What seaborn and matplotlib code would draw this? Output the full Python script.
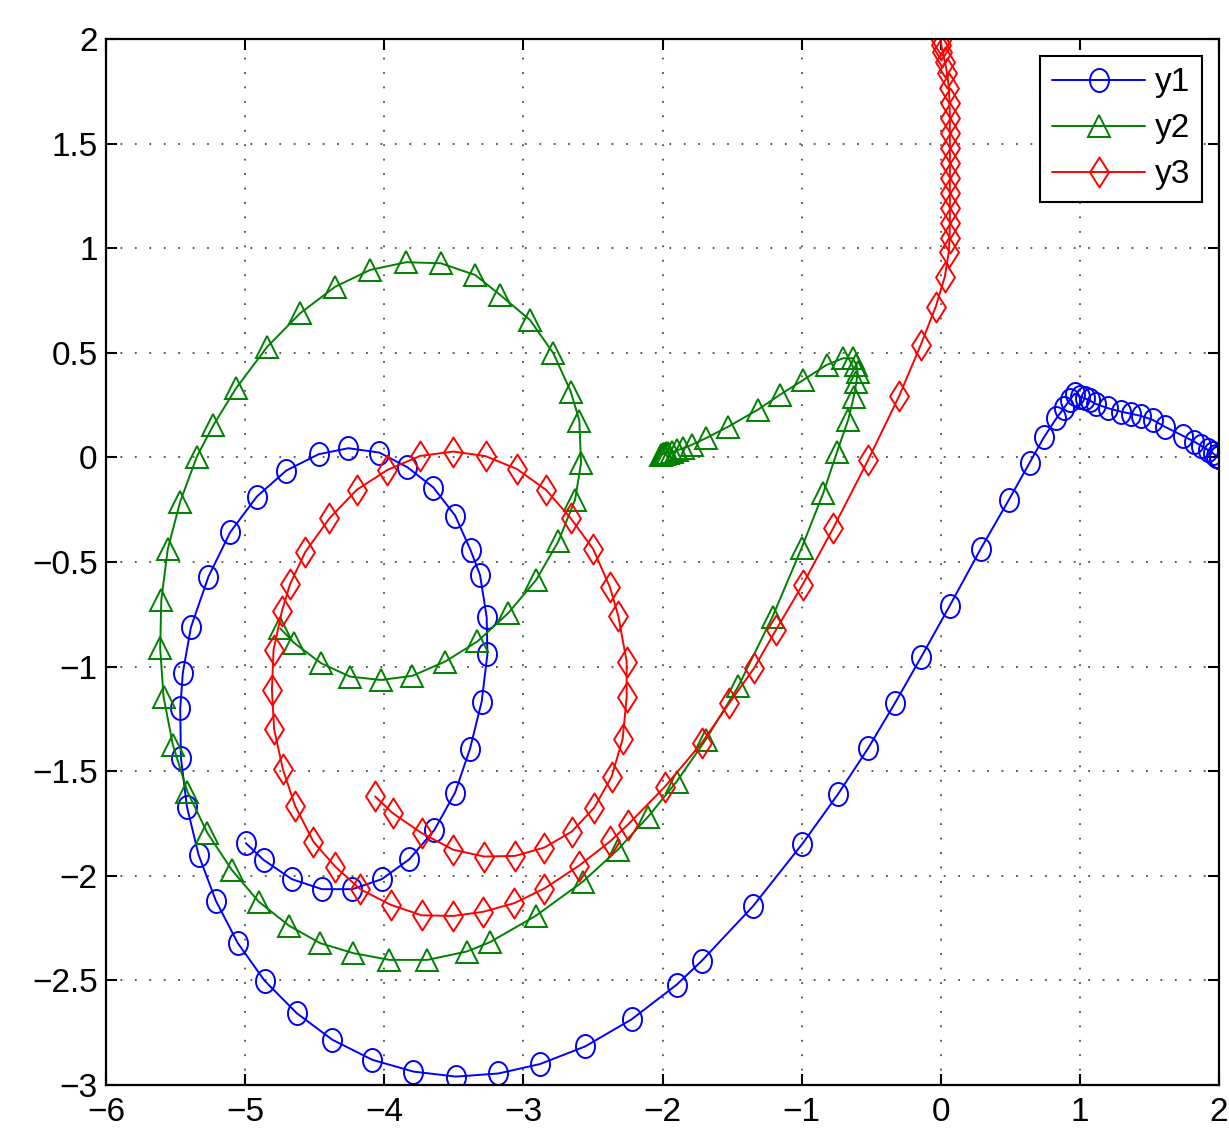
import numpy as np
import matplotlib
matplotlib.use("Agg")
import matplotlib.pyplot as plt
from matplotlib.path import Path
from matplotlib.transforms import Affine2D
import seaborn as sns

# y1 (blue circles)
y1_x = [2.0, 1.999, 1.98, 1.956, 1.92, 1.873, 1.82, 1.741, 1.609, 1.525, 1.442,
        1.370, 1.293, 1.202, 1.113, 1.070, 1.034, 0.999, 0.963, 0.927, 0.884,
        0.831, 0.742, 0.639, 0.489, 0.287, 0.065, -0.139, -0.330, -0.522,
        -0.738, -0.996, -1.348, -1.719, -1.899, -2.222, -2.557, -2.881, -3.180,
        -3.484, -3.791, -4.085, -4.373, -4.629, -4.861, -5.053, -5.211, -5.335,
        -5.419, -5.462, -5.467, -5.448, -5.390, -5.264, -5.108, -4.916, -4.705,
        -4.473, -4.258, -4.035, -3.834, -3.647, -3.491, -3.379, -3.312, -3.264,
        -3.259, -3.300, -3.384, -3.491, -3.640, -3.820, -4.018, -4.229, -4.449,
        -4.665, -4.868, -4.995]
y1_y = [0.0, 0.001, 0.007, 0.02, 0.036, 0.055, 0.076, 0.103, 0.147, 0.179, 0.198,
        0.208, 0.219, 0.235, 0.256, 0.272, 0.283, 0.291, 0.305, 0.275, 0.235,
        0.187, 0.097, -0.025, -0.203, -0.437, -0.708, -0.952, -1.175, -1.390,
        -1.609, -1.848, -2.144, -2.407, -2.521, -2.686, -2.816, -2.900, -2.945,
        -2.960, -2.936, -2.880, -2.784, -2.657, -2.501, -2.322, -2.119, -1.900,
        -1.669, -1.435, -1.199, -1.029, -0.812, -0.570, -0.358, -0.187, -0.063,
        0.015, 0.044, 0.023, -0.047, -0.144, -0.278, -0.445, -0.562, -0.764,
        -0.941, -1.167, -1.393, -1.602, -1.781, -1.921, -2.016, -2.064, -2.064,
        -2.016, -1.924, -1.844]

# y2 (green triangles)
y2_x = [-2.01, -2.0, -1.99, -1.975, -1.96, -1.935, -1.899, -1.851, -1.791, -1.688,
        -1.528, -1.317, -1.157, -0.989, -0.821, -0.702, -0.634, -0.606, -0.598,
        -0.606, -0.625, -0.666, -0.745, -0.845, -1.001, -1.209, -1.456, -1.690,
        -1.899, -2.103, -2.323, -2.573, -2.913, -3.243, -3.407, -3.690, -3.963,
        -4.222, -4.461, -4.684, -4.904, -5.096, -5.271, -5.415, -5.520, -5.587,
        -5.611, -5.603, -5.556, -5.467, -5.347, -5.228, -5.065, -4.840, -4.605,
        -4.353, -4.102, -3.843, -3.594, -3.347, -3.168, -2.953, -2.785, -2.660,
        -2.598, -2.586, -2.629, -2.749, -2.909, -3.110, -3.331, -3.563, -3.798,
        -4.023, -4.246, -4.454, -4.646, -4.749]
y2_y = [0.012, 0.015, 0.018, 0.02, 0.022, 0.025, 0.033, 0.044, 0.060, 0.092,
        0.147, 0.227, 0.299, 0.370, 0.442, 0.474, 0.474, 0.442, 0.410,
        0.362, 0.291, 0.179, 0.028, -0.171, -0.434, -0.761, -1.095, -1.350,
        -1.550, -1.717, -1.876, -2.028, -2.192, -2.318, -2.362, -2.402, -2.402,
        -2.370, -2.322, -2.239, -2.123, -1.972, -1.796, -1.598, -1.374, -1.143,
        -0.912, -0.681, -0.437, -0.211, 0.004, 0.155, 0.331, 0.530, 0.689,
        0.816, 0.896, 0.933, 0.928, 0.872, 0.777, 0.657, 0.498, 0.315,
        0.176, -0.028, -0.203, -0.402, -0.586, -0.745, -0.880, -0.976, -1.044,
        -1.064, -1.048, -0.984, -0.888, -0.817]

# y3 (red diamonds)
y3_x = [0.0, 0.004, 0.012, 0.03, 0.045, 0.058, 0.063, 0.065, 0.065, 0.065, 0.065,
        0.065, 0.065, 0.065, 0.065, 0.063, 0.058, 0.029, -0.036, -0.144, -0.299,
        -0.522, -0.774, -0.994, -1.185, -1.343, -1.521, -1.719, -1.983, -2.251,
        -2.378, -2.601, -2.850, -3.066, -3.288, -3.503, -3.731, -3.953, -4.174,
        -4.353, -4.509, -4.641, -4.729, -4.792, -4.808, -4.796, -4.736, -4.677,
        -4.569, -4.394, -4.198, -3.978, -3.743, -3.503, -3.272, -3.048, -2.838,
        -2.660, -2.498, -2.378, -2.318, -2.258, -2.258, -2.287, -2.366, -2.491,
        -2.653, -2.850, -3.060, -3.283, -3.506, -3.731, -3.939, -4.066]
y3_y = [1.996, 1.97, 1.94, 1.89, 1.837, 1.765, 1.693, 1.621, 1.550, 1.478, 1.406,
        1.335, 1.263, 1.191, 1.119, 1.048, 0.984, 0.864, 0.721, 0.538, 0.294,
        -0.012, -0.339, -0.609, -0.825, -1.008, -1.175, -1.366, -1.574, -1.757,
        -1.836, -1.952, -2.061, -2.131, -2.172, -2.192, -2.189, -2.139, -2.064,
        -1.956, -1.838, -1.666, -1.491, -1.299, -1.111, -0.920, -0.735, -0.605,
        -0.453, -0.291, -0.155, -0.060, 0.007, 0.028, 0.006, -0.055, -0.155,
        -0.291, -0.439, -0.621, -0.758, -0.976, -1.147, -1.347, -1.526, -1.674,
        -1.789, -1.865, -1.905, -1.908, -1.875, -1.796, -1.701, -1.621]

labels = ["y1", "y2", "y3"]
colors = ["#0000ff", "#008000", "#ff0000"]

sns.set_style("ticks")
plt.rcParams["font.family"] = ["Liberation Sans", "DejaVu Sans"]
plt.rcParams["text.color"] = "black"

dpi = 100
fig = plt.figure(figsize=(12.29, 11.31), dpi=dpi)
ax = fig.add_axes([0.0863, 0.0407, 0.9056, 0.9248])

# marker shapes (slightly tall, as in the picture)
circ = Affine2D().scale(19 / 23, 1).transform_path(Path.unit_circle())
diam = Path([(0, 1), (0.63, 0), (0, -1), (-0.63, 0), (0, 1)], closed=True)
px2pt = 72 / dpi

series = [(y1_x, y1_y, circ, 23), (y2_x, y2_y, "^", 22), (y3_x, y3_y, diam, 30)]
handles = []
for (xs, ys, mk, ms), c, lab in zip(series, colors, labels):
    sns.lineplot(x=xs, y=ys, sort=False, estimator=None, ax=ax, color=c,
                 linewidth=1.4, marker=mk, markersize=ms * px2pt,
                 markerfacecolor="none", markeredgecolor=c,
                 markeredgewidth=1.4)
    handles.append(ax.lines[-1])

ax.set_xlim(-6, 2)
ax.set_ylim(-3, 2)
ax.set_xticks(np.arange(-6, 3, 1))
ax.set_yticks(np.arange(-3, 2.5, 0.5))
ax.set_yticklabels(["\u22123", "\u22122.5", "\u22122", "\u22121.5", "\u22121",
                    "\u22120.5", "0", "0.5", "1", "1.5", "2"])
ax.grid(True, color="0.3", linestyle=(0, (1, 7)), linewidth=1.3)
ax.tick_params(direction="in", length=8, width=1.5, top=True, right=True,
               labelsize=24, labelcolor="black", color="black")
ax.tick_params(axis="y", pad=6)
ax.tick_params(axis="x", pad=9)
for s in ax.spines.values():
    s.set_visible(True)
    s.set_linewidth(1.6)
    s.set_color("black")

leg = ax.legend(handles, labels, loc="upper right", fontsize=24,
                frameon=True, fancybox=False, framealpha=1, edgecolor="black",
                handlelength=2.8, handletextpad=0.3, labelspacing=0.45,
                borderaxespad=0.5, numpoints=1, borderpad=0.35)
leg.get_frame().set_linewidth(1.5)
for t in leg.get_texts():
    t.set_color("black")

fig.savefig("out.png", dpi=dpi)
